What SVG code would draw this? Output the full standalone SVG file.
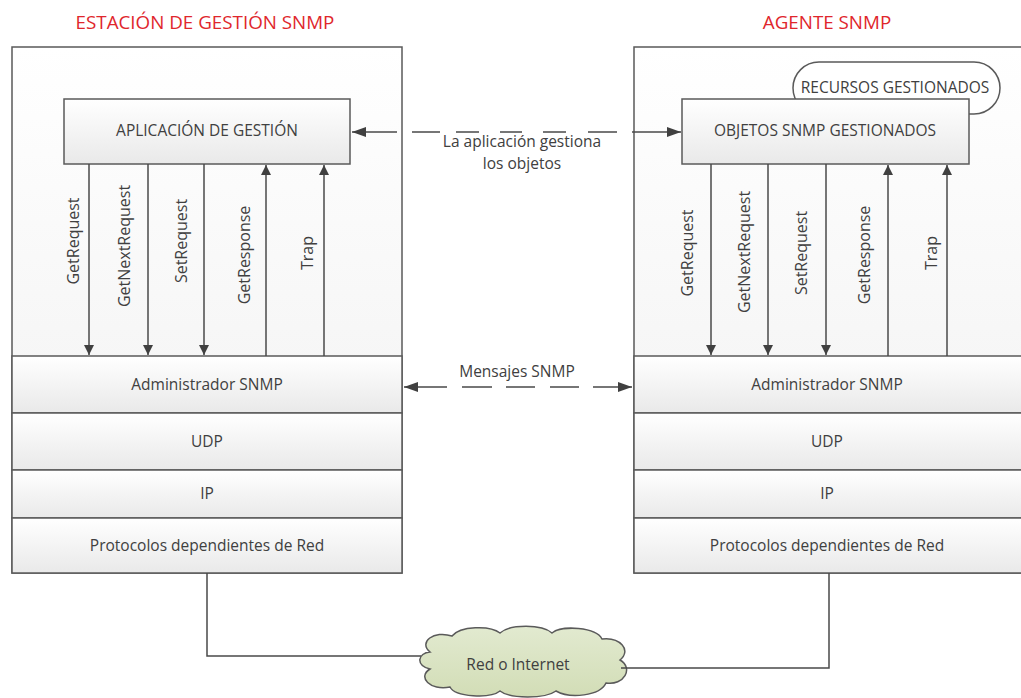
<svg xmlns="http://www.w3.org/2000/svg" width="1021" height="698" viewBox="0 0 1021 698">
<style>
.t{font-family:"Open Sans","Liberation Sans",sans-serif;font-size:15.5px;fill:#404040;text-anchor:middle}
.v{font-size:16px}
.ttl{font-family:"Open Sans","Liberation Sans",sans-serif;font-size:18.8px;fill:#e0262c;text-anchor:middle}
.box{stroke:#5a5a5a;stroke-width:1.5}
.ln{stroke:#4a4a4a;stroke-width:1.5;fill:none}
</style>
<defs>
<linearGradient id="gOuter" x1="0" y1="0" x2="0" y2="1"><stop offset="0" stop-color="#ffffff"/><stop offset="1" stop-color="#f0f0f0"/></linearGradient>
<linearGradient id="gBox" x1="0" y1="0" x2="0" y2="1"><stop offset="0" stop-color="#ffffff"/><stop offset="1" stop-color="#e9e9e9"/></linearGradient>
<linearGradient id="gCloud" x1="0" y1="0" x2="0" y2="1"><stop offset="0" stop-color="#e2ead0"/><stop offset="1" stop-color="#d2ddb6"/></linearGradient>
<marker id="ah" viewBox="0 0 10 10" refX="10" refY="5" markerWidth="10" markerHeight="10" markerUnits="userSpaceOnUse" orient="auto-start-reverse"><path d="M0,0 L10,5 L0,10 Z" fill="#404040"/></marker>
<marker id="ahb" viewBox="0 0 14 10" refX="14" refY="5" markerWidth="14" markerHeight="10" markerUnits="userSpaceOnUse" orient="auto-start-reverse"><path d="M0,0 L14,5 L0,10 Z" fill="#404040"/></marker>
</defs>
<rect width="1021" height="698" fill="#ffffff"/>

<text class="ttl" x="205" y="29">ESTACIÓN DE GESTIÓN SNMP</text>
<text class="ttl" x="827" y="29">AGENTE SNMP</text>

<g id="estacion">
<rect class="box" x="12" y="47" width="390" height="526" fill="url(#gOuter)"/>
</g>
<g id="agente">
<rect class="box" x="634" y="47" width="392" height="526" fill="url(#gOuter)"/>
</g>

<g id="recursos">
<rect class="box" x="793" y="62" width="207" height="52" rx="26" fill="#ffffff"/>
<text class="t" x="895" y="93">RECURSOS GESTIONADOS</text>
</g>

<g id="aplicacion">
<rect class="box" x="64" y="99" width="286" height="65" fill="url(#gBox)"/>
<text class="t" x="207" y="136">APLICACIÓN DE GESTIÓN</text>
</g>
<g id="objetos">
<rect class="box" x="682" y="99" width="287" height="65" fill="url(#gBox)"/>
<text class="t" x="825" y="136">OBJETOS SNMP GESTIONADOS</text>
</g>

<g id="admin-l"><rect class="box" x="12" y="356" width="390" height="57" fill="url(#gBox)"/><text class="t" x="207" y="390">Administrador SNMP</text></g>
<g id="udp-l"><rect class="box" x="12" y="413" width="390" height="57" fill="url(#gBox)"/><text class="t" x="207" y="447">UDP</text></g>
<g id="ip-l"><rect class="box" x="12" y="470" width="390" height="48" fill="url(#gBox)"/><text class="t" x="207" y="499">IP</text></g>
<g id="red-l"><rect class="box" x="12" y="518" width="390" height="55" fill="url(#gBox)"/><text class="t" x="207" y="551">Protocolos dependientes de Red</text></g>

<g id="admin-r"><rect class="box" x="634" y="356" width="392" height="57" fill="url(#gBox)"/><text class="t" x="827" y="390">Administrador SNMP</text></g>
<g id="udp-r"><rect class="box" x="634" y="413" width="392" height="57" fill="url(#gBox)"/><text class="t" x="827" y="447">UDP</text></g>
<g id="ip-r"><rect class="box" x="634" y="470" width="392" height="48" fill="url(#gBox)"/><text class="t" x="827" y="499">IP</text></g>
<g id="red-r"><rect class="box" x="634" y="518" width="392" height="55" fill="url(#gBox)"/><text class="t" x="827" y="551">Protocolos dependientes de Red</text></g>

<g id="cloud">
<path d="M430,652 C418,642 434,630 452,636 C460,626 490,625 500,633 C510,624 542,624 552,633 C562,625 596,627 602,639 C620,637 632,650 620,660 C634,668 624,686 606,683 C600,696 570,699 556,691 C545,699 510,699 500,691 C490,699 455,697 450,687 C430,691 417,677 430,669 C415,665 418,653 430,652 Z" fill="url(#gCloud)" stroke="#5a5a5a" stroke-width="1.5"/>
<text class="t" x="518" y="670">Red o Internet</text>
</g>

<g id="connectors">
<line class="ln" x1="89" y1="164" x2="89" y2="355" marker-end="url(#ah)"/>
<line class="ln" x1="148" y1="164" x2="148" y2="355" marker-end="url(#ah)"/>
<line class="ln" x1="204" y1="164" x2="204" y2="355" marker-end="url(#ah)"/>
<line class="ln" x1="266" y1="356" x2="266" y2="165" marker-end="url(#ah)"/>
<line class="ln" x1="324" y1="356" x2="324" y2="165" marker-end="url(#ah)"/>

<line class="ln" x1="711" y1="164" x2="711" y2="355" marker-end="url(#ah)"/>
<line class="ln" x1="768" y1="164" x2="768" y2="355" marker-end="url(#ah)"/>
<line class="ln" x1="826" y1="164" x2="826" y2="355" marker-end="url(#ah)"/>
<line class="ln" x1="888" y1="356" x2="888" y2="165" marker-end="url(#ah)"/>
<line class="ln" x1="947" y1="356" x2="947" y2="165" marker-end="url(#ah)"/>

<path class="ln" d="M352,132 H397 M412,132 H440 M456,132 H479 M500,132 H522 M543,132 H566 M588,132 H617 M632,132 H681" marker-start="url(#ahb)" marker-end="url(#ahb)"/>
<path class="ln" d="M404,387 H447 M462,387 H492 M506,387 H535 M550,387 H579 M593,387 H632" marker-start="url(#ahb)" marker-end="url(#ahb)"/>

<path class="ln" d="M207,573 V656 H421"/>
<path class="ln" d="M621,668 H829 V573"/>
</g>

<text class="t" x="522" y="147">La aplicación gestiona</text>
<text class="t" x="522" y="169">los objetos</text>
<text class="t" x="517" y="377">Mensajes SNMP</text>

<text class="t v" transform="translate(79,241) rotate(-90)">GetRequest</text>
<text class="t v" transform="translate(130,246) rotate(-90)">GetNextRequest</text>
<text class="t v" transform="translate(187,241) rotate(-90)">SetRequest</text>
<text class="t v" transform="translate(250,255) rotate(-90)">GetResponse</text>
<text class="t v" transform="translate(313,253) rotate(-90)">Trap</text>

<text class="t v" transform="translate(693,253) rotate(-90)">GetRequest</text>
<text class="t v" transform="translate(750,252) rotate(-90)">GetNextRequest</text>
<text class="t v" transform="translate(807,253) rotate(-90)">SetRequest</text>
<text class="t v" transform="translate(870,255) rotate(-90)">GetResponse</text>
<text class="t v" transform="translate(937,253) rotate(-90)">Trap</text>
</svg>
